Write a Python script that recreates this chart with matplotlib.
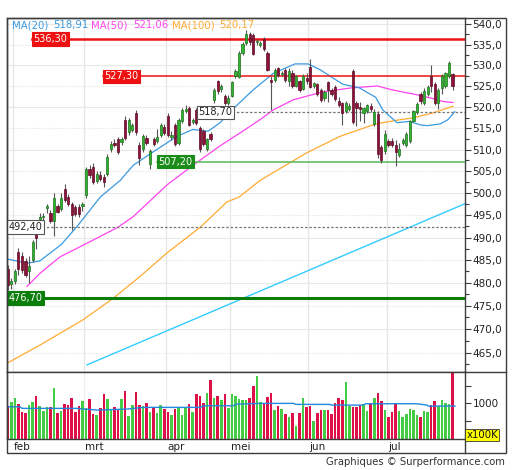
import matplotlib
matplotlib.use('Agg')
import matplotlib.pyplot as plt
from matplotlib.ticker import FixedLocator, FixedFormatter, NullFormatter
from matplotlib.lines import Line2D
from matplotlib.patches import Rectangle
from matplotlib.transforms import blended_transform_factory

# ---- data ----
opens = [483.0, 479.8, 480.3, 486.8, 485.8, 484.8, 482.5, 485.0, 491.2, 494.0,
         494.6, 496.6, 495.6, 493.6, 497.0, 496.5, 501.0, 499.2, 497.6, 496.9,
         496.9, 497.0, 499.6, 505.5, 506.0, 502.8, 504.2, 503.8, 504.4, 510.1,
         511.5, 512.4, 511.7, 517.0, 514.0, 514.5, 518.5, 511.0, 510.1, 512.8,
         506.7, 512.4, 512.0, 513.5, 515.4, 517.8, 513.0, 515.8, 511.6, 516.6,
         519.0, 519.7, 516.5, 519.3, 515.1, 514.3, 510.1, 513.6, 521.7, 526.2,
         524.2, 522.5, 521.0, 522.7, 527.5, 527.2, 533.0, 535.3, 537.5, 537.3,
         535.5, 535.0, 536.3, 533.0, 526.5, 526.4, 529.2, 527.8, 528.9, 526.2,
         528.2, 525.1, 526.1, 524.3, 527.0, 529.6, 525.0, 525.4, 524.0, 522.2,
         525.9, 524.0, 524.8, 521.5, 520.9, 519.0, 519.5, 528.5, 520.9, 520.0,
         518.6, 519.0, 520.3, 516.0, 518.4, 510.5, 509.7, 511.9, 512.0, 511.0,
         508.8, 511.5, 511.0, 512.0, 516.8, 518.8, 523.0, 521.0, 523.0, 527.3,
         525.4, 521.0, 524.6, 525.0, 527.3, 527.8]
highs = [483.8, 481.0, 483.0, 487.6, 486.8, 485.5, 486.0, 489.5, 492.3, 495.6,
         495.4, 497.6, 496.2, 500.0, 497.5, 500.0, 502.0, 499.8, 497.9, 497.4,
         497.5, 498.0, 506.0, 506.5, 507.0, 505.0, 505.0, 504.3, 509.0, 512.0,
         512.5, 513.0, 513.0, 517.8, 517.3, 516.3, 519.3, 511.8, 513.6, 513.3,
         510.2, 512.9, 514.7, 516.2, 516.0, 518.5, 514.3, 516.3, 517.5, 519.8,
         520.5, 520.2, 517.5, 519.8, 515.6, 514.8, 512.8, 514.0, 524.5, 526.5,
         525.5, 523.0, 522.8, 526.2, 529.0, 533.4, 535.6, 538.5, 538.0, 537.8,
         536.3, 535.9, 536.8, 533.5, 527.3, 529.3, 529.6, 528.6, 529.4, 529.2,
         528.8, 527.6, 526.5, 527.8, 528.0, 531.5, 526.0, 525.8, 524.4, 524.0,
         526.3, 524.6, 525.3, 522.3, 521.3, 521.5, 521.0, 529.0, 521.5, 521.2,
         520.0, 520.8, 521.0, 519.5, 519.0, 511.0, 514.5, 512.5, 512.6, 512.2,
         511.5, 512.6, 514.0, 517.0, 519.4, 521.2, 523.5, 524.5, 525.2, 530.1,
         526.0, 524.5, 527.8, 528.3, 531.0, 528.2]
lows = [478.5, 478.6, 479.8, 481.8, 482.2, 481.3, 480.0, 484.5, 487.5, 493.0,
        493.8, 495.4, 493.2, 490.3, 495.5, 496.0, 498.0, 497.0, 491.6, 494.8,
        494.5, 496.0, 499.0, 503.5, 502.0, 502.3, 502.8, 501.5, 504.0, 509.5,
        510.5, 509.0, 511.0, 512.2, 513.5, 514.0, 513.5, 506.5, 509.5, 511.0,
        505.5, 510.8, 511.5, 513.0, 513.3, 513.0, 512.2, 510.8, 511.0, 516.2,
        518.5, 515.5, 516.0, 515.8, 509.5, 510.8, 509.6, 511.9, 521.0, 523.2,
        523.5, 520.5, 520.5, 522.3, 527.0, 527.0, 532.5, 535.0, 535.0, 532.4,
        535.0, 534.3, 533.5, 528.5, 519.3, 526.0, 527.2, 527.3, 525.9, 525.0,
        524.6, 524.8, 523.6, 524.0, 525.5, 524.4, 524.5, 522.6, 521.3, 521.5,
        521.2, 522.5, 521.5, 520.0, 515.7, 518.6, 519.0, 515.9, 515.5, 516.6,
        516.2, 518.5, 518.8, 515.5, 508.0, 507.0, 509.0, 510.5, 510.6, 506.3,
        508.4, 511.0, 510.6, 511.6, 516.4, 518.4, 520.8, 520.5, 522.5, 523.5,
        520.5, 519.5, 523.0, 524.5, 526.8, 524.0]
closes = [479.5, 480.4, 482.6, 483.0, 482.8, 481.8, 483.6, 489.0, 489.8, 494.6,
          494.9, 497.0, 493.6, 499.0, 495.8, 499.0, 498.5, 497.6, 495.0, 495.3,
          495.3, 497.5, 505.5, 504.1, 502.6, 504.4, 503.3, 502.6, 508.3, 511.3,
          511.0, 509.4, 512.4, 512.8, 517.0, 515.8, 514.0, 508.0, 513.2, 511.6,
          509.7, 511.3, 513.0, 515.8, 513.9, 513.5, 513.5, 511.3, 517.0, 519.3,
          519.6, 515.8, 517.0, 516.3, 510.1, 511.3, 512.4, 512.4, 524.0, 523.8,
          525.0, 521.0, 522.2, 525.9, 528.6, 533.0, 535.2, 537.5, 535.6, 532.6,
          535.8, 535.2, 534.0, 528.9, 526.0, 528.9, 527.6, 528.2, 526.4, 528.6,
          525.1, 527.3, 524.0, 527.3, 526.2, 524.8, 525.6, 523.0, 521.7, 523.5,
          524.0, 523.0, 522.0, 520.5, 518.5, 520.9, 520.3, 516.5, 519.7, 519.5,
          519.7, 520.5, 519.5, 518.8, 509.0, 507.6, 513.6, 511.0, 511.0, 509.5,
          510.2, 512.2, 513.6, 516.6, 519.0, 520.8, 521.4, 523.8, 524.8, 525.0,
          521.0, 524.0, 527.3, 528.0, 530.6, 525.0]
volumes = [924, 1027, 1158, 980, 766, 719, 952, 1027, 1214, 924,
           794, 887, 887, 1419, 719, 794, 980, 952, 1139, 766,
           924, 1064, 859, 1111, 691, 672, 859, 1260, 1111, 831,
           906, 831, 1111, 1344, 644, 952, 1307, 952, 934, 999,
           747, 878, 738, 952, 840, 747, 672, 840, 878, 672,
           906, 980, 766, 1251, 1214, 999, 1279, 1653, 1139, 1214,
           1092, 1251, 878, 1270, 1204, 1111, 1102, 1102, 1158, 1494,
           1774, 1046, 999, 1186, 1279, 812, 924, 831, 691, 625,
           738, 364, 738, 1139, 906, 924, 504, 719, 812, 812,
           812, 691, 1018, 1158, 1092, 1606, 934, 906, 906, 952,
           980, 794, 999, 1158, 1279, 1064, 812, 607, 766, 971,
           794, 625, 691, 831, 812, 672, 607, 785, 766, 952,
           1074, 924, 1083, 1018, 980, 1886]

ma20_x = [0, 5.5, 9, 15, 19.4, 21, 26, 31.6, 35.3, 42, 47.6, 52, 56.3, 59.7,
          62.5, 68.9, 74.6, 80.7, 84.4, 87.8, 91.4, 94.2, 98.7, 103.4, 105.4,
          109.4, 113, 115.8, 117.8, 121.5, 123.7, 125.6]
ma20_v = [485.2, 484.3, 484.8, 488.4, 492.4, 494.0, 499.1, 502.9, 506.4, 510.1,
          513.1, 514.7, 514.3, 516.3, 518.9, 524.0, 528.0, 530.3, 530.3, 528.9,
          526.9, 525.4, 524.6, 522.3, 519.3, 516.3, 516.6, 515.8, 515.6, 516.0,
          517.0, 518.9]
ma50_x = [5.4, 9.1, 14.7, 22.2, 31, 35.3, 44.8, 52.1, 59.7, 65.3, 70.9, 74.6,
          80.2, 88.6, 96.2, 103.8, 108.4, 115, 119.5, 122.3, 125.1]
ma50_v = [479.2, 482.1, 485.7, 488.7, 492.3, 494.7, 501.9, 506.4, 510.9, 513.9,
          517.0, 519.3, 521.7, 523.6, 524.5, 525.0, 524.0, 522.9, 522.0, 521.3,
          521.06]
ma100_x = [0.2, 9.1, 21.2, 29.6, 37.2, 44.8, 54.1, 61.6, 65, 70.9, 74.6, 84.1,
           93.4, 102.7, 105.4, 110.2, 113.9, 119.5, 125.1]
ma100_v = [462.9, 466.6, 472.0, 476.6, 481.4, 486.6, 492.3, 498.0, 499.1, 502.9,
           504.7, 509.3, 513.1, 515.8, 516.3, 517.0, 517.4, 518.6, 520.17]
vol_ma_x = [0, 3.5, 4, 19.4, 20.4, 25, 33.5, 38, 54, 55, 63.4, 64.4, 71, 80.3,
            81, 90.6, 91, 100, 100.5, 115, 117.8, 118.2, 125.7]
vol_ma_v = [905, 905, 860, 860, 850, 812, 840, 888, 888, 933, 933, 980, 1000,
            1000, 972, 972, 952, 952, 990, 990, 952, 924, 924]

trend_x = [22.3, 128.5]
trend_v = [462.4, 497.6]

levels = [536.30, 527.30, 518.70, 507.20, 492.40, 476.70]
level_labels = ['536,30', '527,30', '518,70', '507,20', '492,40', '476,70']

months = ['feb', 'mrt', 'apr', 'mei', 'jun', 'jul']
month_pos = [1.5, 21.5, 44.5, 62.5, 84.5, 106.5]

ma_names = ['MA(20)', 'MA(50)', 'MA(100)']
ma_last = ['518,91', '521,06', '520,17']

# ---- layout helpers (pixels of the 512x470 picture) ----
W, H = 512, 470


def fx(px):
    return px / W


def fy(py):
    return 1 - py / H


frame_col = '#3c3c3c'
up_col, up_edge = '#2fb52f', '#1e6e1e'
dn_col, dn_edge = '#8e1238', '#5c0b24'
vol_up, vol_dn = '#44cc44', '#dd1148'
c20, c50, c100 = '#3a9ae0', '#ff44ee', '#ffaa33'

fig = plt.figure(figsize=(W / 100, H / 100), dpi=100)
ax = fig.add_axes([fx(7), fy(371.7), fx(465) - fx(7), fy(18) - fy(371.7)])
axv = fig.add_axes([fx(7), fy(439), fx(465) - fx(7), fy(371.7) - fy(439)], sharex=ax)

n = len(closes)
xs = list(range(n))

# grid
for g in month_pos:
    ax.axvline(g, color='#e6e6e6', lw=0.9, zorder=0)
    axv.axvline(g, color='#ececec', lw=0.9, zorder=0)
for v in range(465, 541, 5):
    ax.axhline(v, color='#e8e8e8', lw=0.8, zorder=0,
               ls='-' if v % 10 == 0 else (0, (1, 1)))

# moving averages + trend
ax.plot(trend_x, trend_v, color='#33ccff', lw=1.0, zorder=2)
ax.plot(ma100_x, ma100_v, color=c100, lw=0.9, zorder=2)
ax.plot(ma50_x, ma50_v, color=c50, lw=0.9, zorder=2)
ax.plot(ma20_x, ma20_v, color=c20, lw=0.9, zorder=2)

# horizontal levels
lvl_x = [6.9, 26.8, 53.2, 42.0, -0.1, -0.1]
lvl_style = [
    dict(color='#ee1111', lw=1.8, ls='-'),
    dict(color='#ee1111', lw=1.1, ls='-'),
    dict(color='#777777', lw=0.9, ls=(0, (2, 1.5))),
    dict(color='#66bb66', lw=1.2, ls='-'),
    dict(color='#777777', lw=0.9, ls=(0, (2, 1.5))),
    dict(color='#0b7d0b', lw=2.2, ls='-'),
]
box_fc = ['#ee1111', '#ee1111', 'white', '#1a8c1a', 'white', '#0b7d0b']
box_ec = ['#ee1111', '#ee1111', '#555555', '#1a8c1a', '#555555', '#0b7d0b']
txt_c = ['white', 'white', '#222222', 'white', '#222222', 'white']
for lv, lab, x0, st, fc, ec, tc in zip(levels, level_labels, lvl_x, lvl_style,
                                       box_fc, box_ec, txt_c):
    ax.plot([x0, 128.5], [lv, lv], zorder=3, **st)
    ax.text(x0 + 0.35, lv, lab, color=tc, fontsize=7, ha='left', va='center',
            zorder=6, bbox=dict(boxstyle='square,pad=0.18', fc=fc, ec=ec, lw=0.8))

# candles
for i in xs:
    o, h, l, c = opens[i], highs[i], lows[i], closes[i]
    ax.vlines(i, l, h, color='#555555', lw=0.8, zorder=4)
    up = c >= o
    lo, hi = min(o, c), max(o, c)
    if hi - lo < 0.25:
        hi = lo + 0.25
    ax.bar(i, hi - lo, bottom=lo, width=0.62, color=up_col if up else dn_col,
           edgecolor=up_edge if up else dn_edge, lw=0.5, zorder=5)

ax.set_yscale('log')
ax.set_ylim(460.96, 541.5)
ax.set_xlim(-0.2, 128.5)
ax.yaxis.tick_right()
major = list(range(465, 541, 5))
ax.yaxis.set_major_locator(FixedLocator(major))
ax.yaxis.set_major_formatter(FixedFormatter([f'{v:.1f}'.replace('.', ',') for v in major]))
ax.yaxis.set_minor_locator(FixedLocator([v + 2.5 for v in range(460, 541, 5)]))
ax.yaxis.set_minor_formatter(NullFormatter())
ax.tick_params(axis='y', which='major', length=4, width=0.8, colors=frame_col,
               labelsize=7.5, labelcolor='#222222', pad=1.5)
ax.tick_params(axis='y', which='minor', length=3, width=0.8, colors=frame_col)
ax.tick_params(axis='x', which='both', bottom=False, labelbottom=False)
for s in ax.spines.values():
    s.set_color(frame_col)
    s.set_linewidth(1)

# volume
vcols = [vol_up if closes[i] >= opens[i] else vol_dn for i in xs]
axv.bar(xs, volumes, width=0.72, color=vcols, zorder=2)
axv.plot(vol_ma_x, vol_ma_v, color='#2288dd', lw=1.0, zorder=3)
axv.set_ylim(0, 1890)
axv.yaxis.tick_right()
axv.yaxis.set_major_locator(FixedLocator([1000]))
axv.yaxis.set_major_formatter(FixedFormatter(['1000']))
axv.yaxis.set_minor_locator(FixedLocator([500, 1500]))
axv.yaxis.set_minor_formatter(NullFormatter())
axv.tick_params(axis='y', which='major', length=4, width=0.8, colors=frame_col,
                labelsize=7.5, labelcolor='#222222', pad=1.5)
axv.tick_params(axis='y', which='minor', length=4, width=0.8, colors=frame_col)
axv.tick_params(axis='x', which='both', bottom=False, labelbottom=False)
for s in axv.spines.values():
    s.set_color(frame_col)
    s.set_linewidth(1)

tr = blended_transform_factory(axv.transData, axv.transAxes)
for m, p in zip(months, month_pos):
    axv.text(p + 0.3, -0.04, m, transform=tr, fontsize=7.5, color='#222222',
             ha='left', va='top')

# legend across the top
leg_x = [12, 53, 91, 133, 172, 219]
leg_t = [ma_names[0], ma_last[0], ma_names[1], ma_last[1], ma_names[2], ma_last[2]]
leg_c = [c20, c20, c50, c50, c100, c100]
for x0, t, c in zip(leg_x, leg_t, leg_c):
    fig.text(fx(x0), fy(25), t, color=c, fontsize=7.3, ha='left', va='center')

# outer frame and extra rules
fig.add_artist(Rectangle((fx(7), fy(453)), fx(506) - fx(7), fy(18) - fy(453),
                         fill=False, ec=frame_col, lw=1, transform=fig.transFigure))
fig.add_artist(Line2D([fx(465), fx(465)], [fy(439), fy(453)], color=frame_col, lw=1))
fig.add_artist(Line2D([fx(465), fx(506)], [fy(371.7), fy(371.7)], color=frame_col, lw=1))

fig.text(fx(466.5), fy(435), 'x100K', fontsize=7.3, color='#111111', ha='left', va='center',
         bbox=dict(boxstyle='square,pad=0.12', fc='#ffff00', ec='#333333', lw=0.6))
fig.text(fx(505), fy(462), 'Graphiques \u00a9 Surperformance.com', fontsize=7.2,
         color='#333333', ha='right', va='center')

fig.savefig('out.png', dpi=100)
